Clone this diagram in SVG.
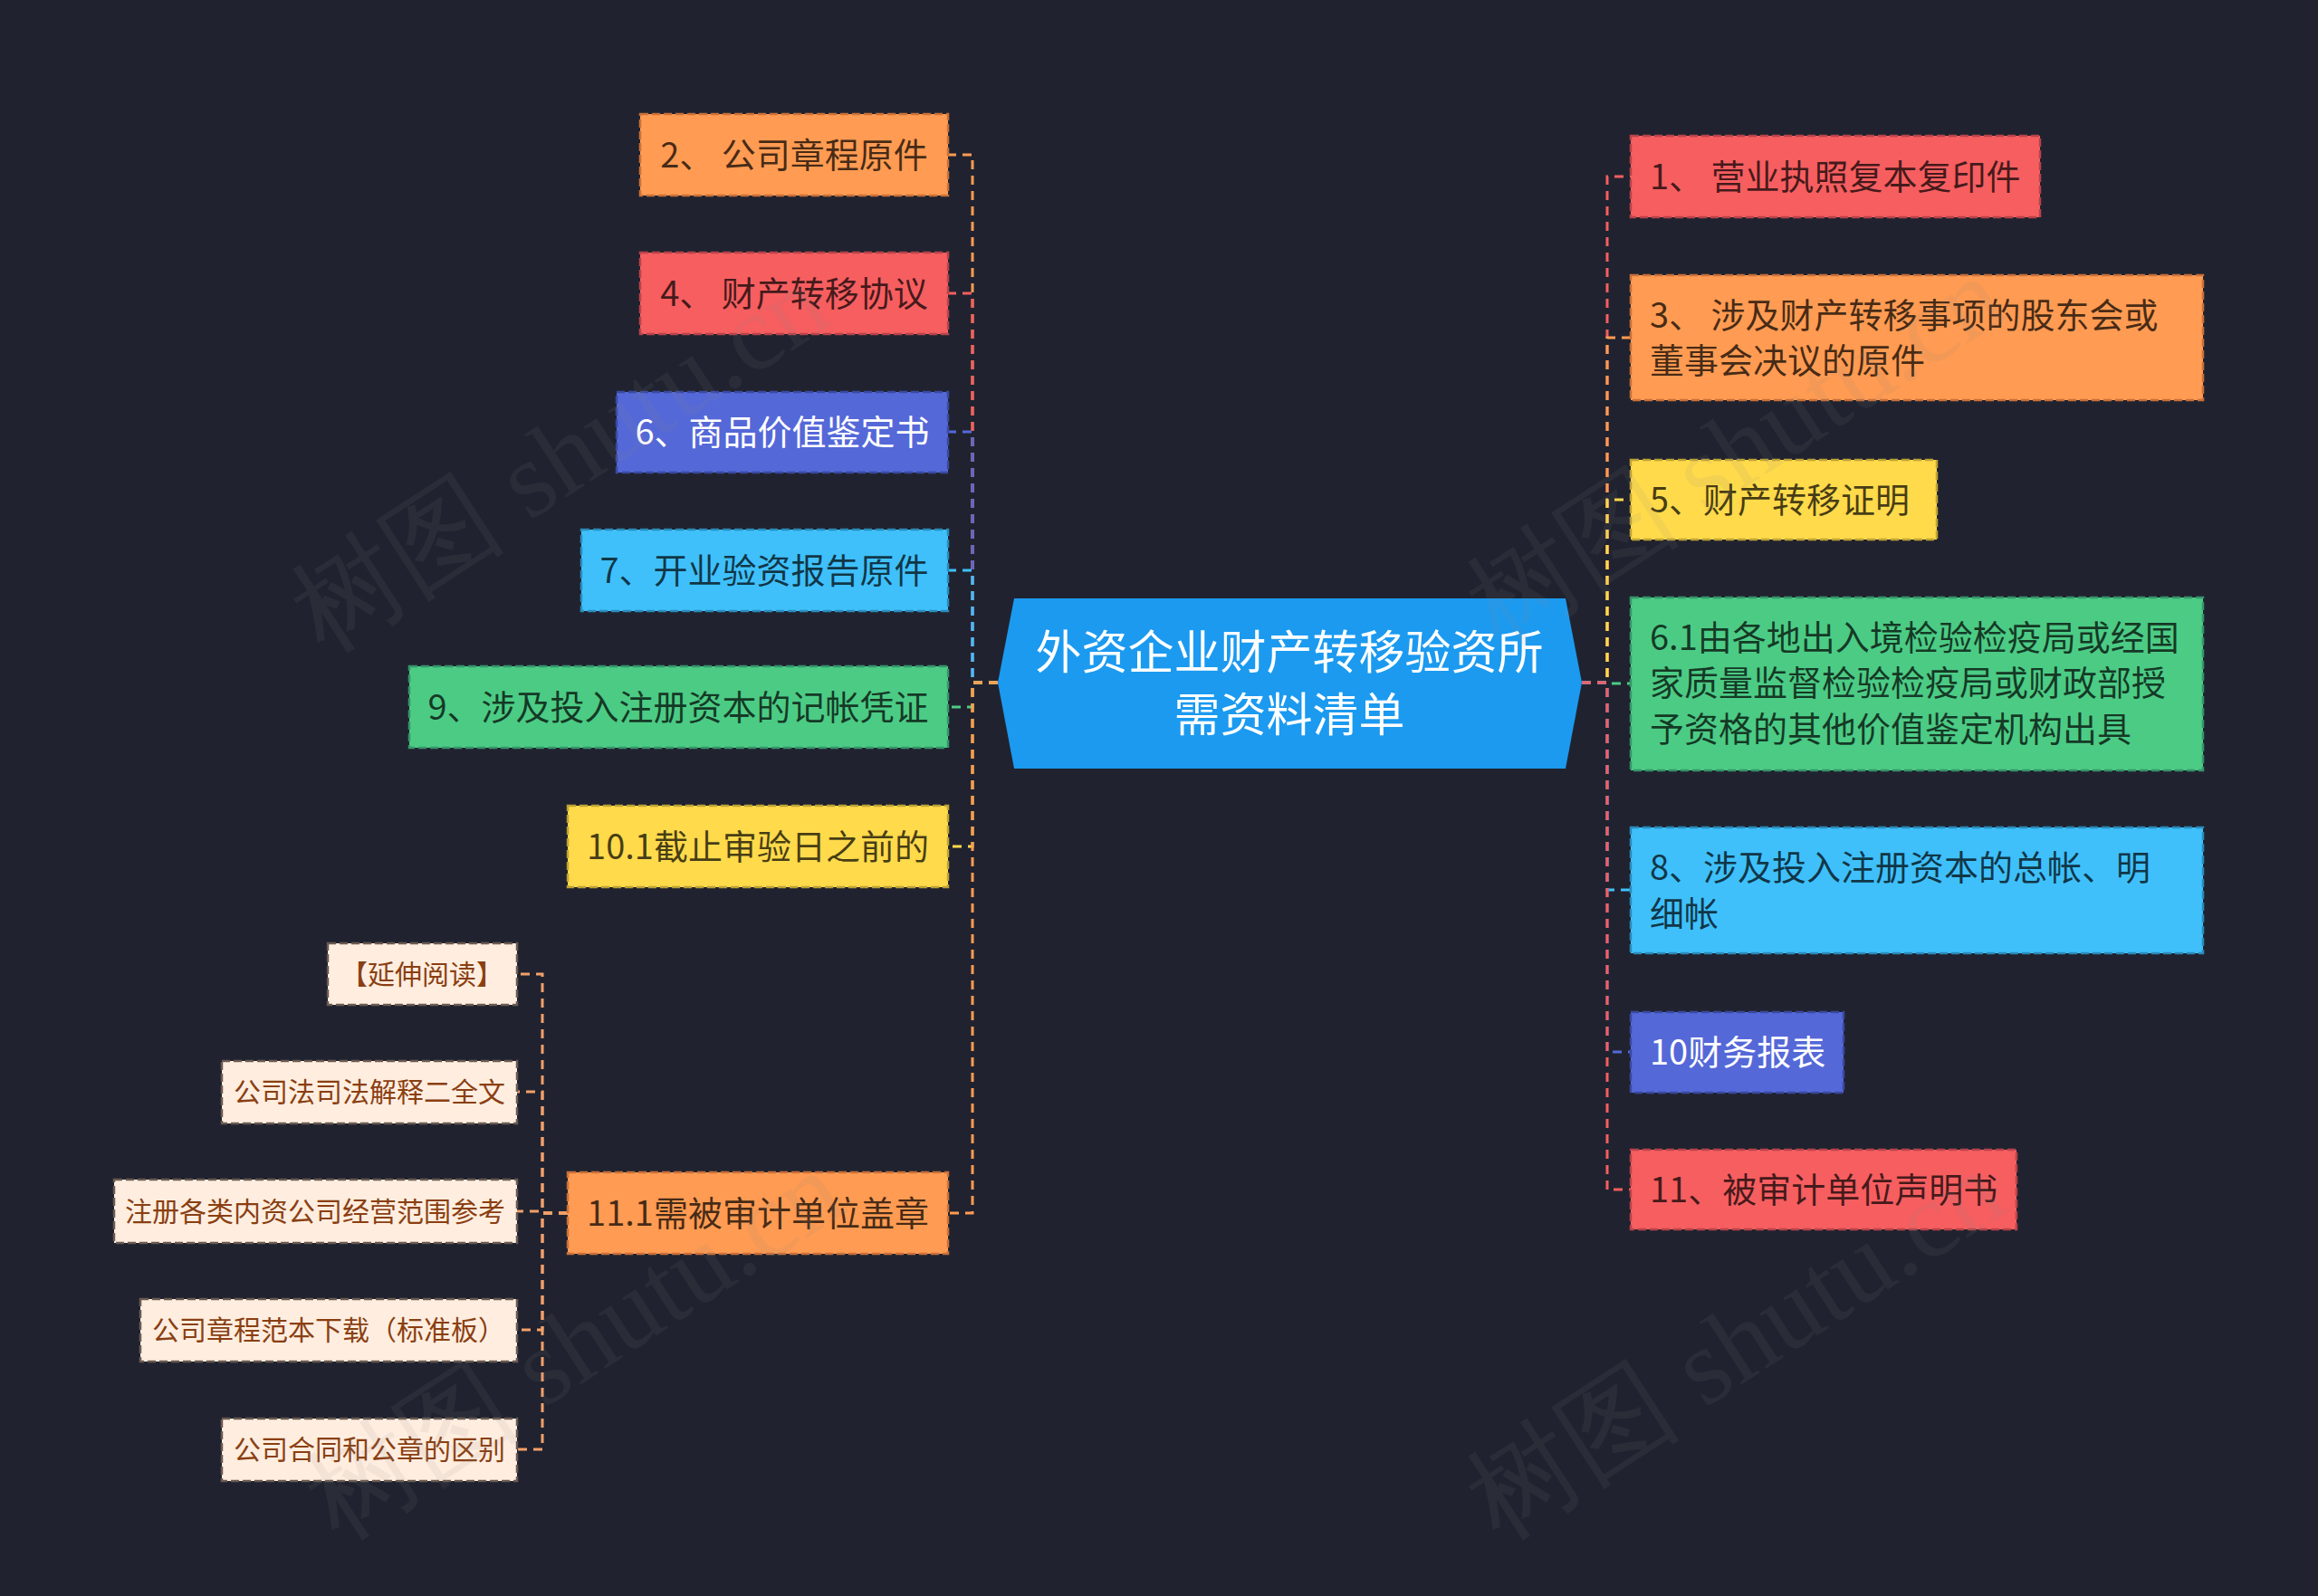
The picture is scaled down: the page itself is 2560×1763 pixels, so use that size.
<svg xmlns="http://www.w3.org/2000/svg" width="2560" height="1763" viewBox="0 0 2560 1763">
<style>
.bg{fill:#20232F}
.box{stroke-width:2.5;stroke-dasharray:9 4}
.t{font-family:"Noto Sans CJK SC","Noto Sans",sans-serif;font-size:38px;fill:#000;fill-opacity:.72}
.tw{font-family:"Noto Sans CJK SC","Noto Sans",sans-serif;font-size:38px;fill:#fff}
.ts{font-family:"Noto Sans CJK SC","Noto Sans",sans-serif;font-size:30px;fill:#8A3F12}
.tc{font-family:"Noto Sans CJK SC","Noto Sans",sans-serif;font-size:51px;fill:#fff}
.c{fill:none;stroke-width:3;stroke-dasharray:10 7}
.wm{font-family:"Liberation Serif",serif;font-size:120px;fill:#8a8a8a;fill-opacity:.1}
.or{fill:#FF9B52;stroke:#C9703A}
.rd{fill:#F65E60;stroke:#B8434A}
.bl{fill:#5568D8;stroke:#3A4AA0}
.lb{fill:#3FC0FB;stroke:#2A8BBA}
.gr{fill:#4CCB85;stroke:#35956A}
.ye{fill:#FFDA4B;stroke:#BFA236}
.cr{fill:#FFEEE0;stroke:#6a5a50}
</style>
<rect class="bg" x="0" y="0" width="2560" height="1763"/>

<g id="connectors">
  <path class="c" stroke="#FF9B52" d="M1102 754 H1074 V171 H1047"/>
  <path class="c" stroke="#F65E60" d="M1102 754 H1074 V324 H1047"/>
  <path class="c" stroke="#5568D8" d="M1102 754 H1074 V477 H1047"/>
  <path class="c" stroke="#3FC0FB" d="M1102 754 H1074 V630 H1047"/>
  <path class="c" stroke="#4CCB85" d="M1102 754 H1074 V781 H1047"/>
  <path class="c" stroke="#FFDA4B" d="M1102 754 H1074 V935 H1047"/>
  <path class="c" stroke="#FF9B52" d="M1102 754 H1074 V1340 H1047"/>

  <path class="c" stroke="#F65E60" d="M1747 754 H1775 V195 H1801"/>
  <path class="c" stroke="#FF9B52" d="M1747 754 H1775 V373 H1801"/>
  <path class="c" stroke="#FFDA4B" d="M1747 754 H1775 V552 H1801"/>
  <path class="c" stroke="#4CCB85" d="M1747 754 H1775 V755 H1801"/>
  <path class="c" stroke="#3FC0FB" d="M1747 754 H1775 V983 H1801"/>
  <path class="c" stroke="#5568D8" d="M1747 754 H1775 V1162 H1801"/>
  <path class="c" stroke="#F65E60" d="M1747 754 H1775 V1314 H1801"/>

  <path class="c" stroke="#F2A06A" stroke-width="2.5" d="M627 1340 H599 V1076 H571"/>
  <path class="c" stroke="#F2A06A" stroke-width="2.5" d="M627 1340 H599 V1206 H571"/>
  <path class="c" stroke="#F2A06A" stroke-width="2.5" d="M627 1340 H599 V1338 H571"/>
  <path class="c" stroke="#F2A06A" stroke-width="2.5" d="M627 1340 H599 V1469 H571"/>
  <path class="c" stroke="#F2A06A" stroke-width="2.5" d="M627 1340 H599 V1601 H571"/>
</g>

<g id="root">
  <polygon fill="#1B9AF0" points="1102,754 1120,661 1729,661 1747,754 1729,849 1120,849"/>
  <text class="tc" x="1424" y="739" text-anchor="middle">外资企业财产转移验资所</text>
  <text class="tc" x="1424" y="808" text-anchor="middle">需资料清单</text>
</g>

<g id="n2"><rect class="box or" x="707" y="126" width="340" height="90"/><text class="t" x="877" y="185" text-anchor="middle">2、 公司章程原件</text></g>
<g id="n4"><rect class="box rd" x="707" y="279" width="340" height="90"/><text class="t" x="877" y="338" text-anchor="middle">4、 财产转移协议</text></g>
<g id="n6"><rect class="box bl" x="681" y="433" width="366" height="89"/><text class="tw" x="864" y="491" text-anchor="middle">6、商品价值鉴定书</text></g>
<g id="n7"><rect class="box lb" x="642" y="585" width="405" height="90"/><text class="t" x="844" y="644" text-anchor="middle">7、开业验资报告原件</text></g>
<g id="n9"><rect class="box gr" x="452" y="736" width="595" height="90"/><text class="t" x="749" y="795" text-anchor="middle">9、涉及投入注册资本的记帐凭证</text></g>
<g id="n101"><rect class="box ye" x="627" y="890" width="420" height="90"/><text class="t" x="837" y="949" text-anchor="middle">10.1截止审验日之前的</text></g>
<g id="n111"><rect class="box or" x="627" y="1295" width="420" height="90"/><text class="t" x="837" y="1354" text-anchor="middle">11.1需被审计单位盖章</text></g>

<g id="s1"><rect class="box cr" stroke-width="2" x="362" y="1042" width="209" height="68"/><text class="ts" x="466" y="1087" text-anchor="middle">【延伸阅读】</text></g>
<g id="s2"><rect class="box cr" stroke-width="2" x="245" y="1172" width="326" height="69"/><text class="ts" x="408" y="1217" text-anchor="middle">公司法司法解释二全文</text></g>
<g id="s3"><rect class="box cr" stroke-width="2" x="126" y="1303" width="445" height="70"/><text class="ts" x="348" y="1349" text-anchor="middle">注册各类内资公司经营范围参考</text></g>
<g id="s4"><rect class="box cr" stroke-width="2" x="155" y="1435" width="416" height="69"/><text class="ts" x="363" y="1480" text-anchor="middle">公司章程范本下载（标准板）</text></g>
<g id="s5"><rect class="box cr" stroke-width="2" x="245" y="1567" width="326" height="69"/><text class="ts" x="408" y="1612" text-anchor="middle">公司合同和公章的区别</text></g>

<g id="n1"><rect class="box rd" x="1801" y="150" width="452" height="90"/><text class="t" x="1822" y="209">1、 营业执照复本复印件</text></g>
<g id="n3"><rect class="box or" x="1801" y="304" width="632" height="138"/><text class="t" x="1822" y="362">3、 涉及财产转移事项的股东会或</text><text class="t" x="1822" y="412">董事会决议的原件</text></g>
<g id="n5"><rect class="box ye" x="1801" y="508" width="338" height="88"/><text class="t" x="1822" y="566">5、财产转移证明</text></g>
<g id="n61"><rect class="box gr" x="1801" y="660" width="632" height="191"/><text class="t" x="1822" y="718">6.1由各地出入境检验检疫局或经国</text><text class="t" x="1822" y="768">家质量监督检验检疫局或财政部授</text><text class="t" x="1822" y="819">予资格的其他价值鉴定机构出具</text></g>
<g id="n8"><rect class="box lb" x="1801" y="914" width="632" height="139"/><text class="t" x="1822" y="972">8、涉及投入注册资本的总帐、明</text><text class="t" x="1822" y="1023">细帐</text></g>
<g id="n10"><rect class="box bl" x="1801" y="1118" width="235" height="89"/><text class="tw" x="1822" y="1176">10财务报表</text></g>
<g id="n11"><rect class="box rd" x="1801" y="1270" width="426" height="88"/><text class="t" x="1822" y="1328">11、被审计单位声明书</text></g>

<g id="watermarks">
  <text class="wm" text-anchor="middle" transform="translate(640 540) rotate(-33)">树图 shutu.cn</text>
  <text class="wm" text-anchor="middle" transform="translate(1938 532) rotate(-33)">树图 shutu.cn</text>
  <text class="wm" text-anchor="middle" transform="translate(656 1520) rotate(-33)">树图 shutu.cn</text>
  <text class="wm" text-anchor="middle" transform="translate(1938 1520) rotate(-33)">树图 shutu.cn</text>
</g>
</svg>
